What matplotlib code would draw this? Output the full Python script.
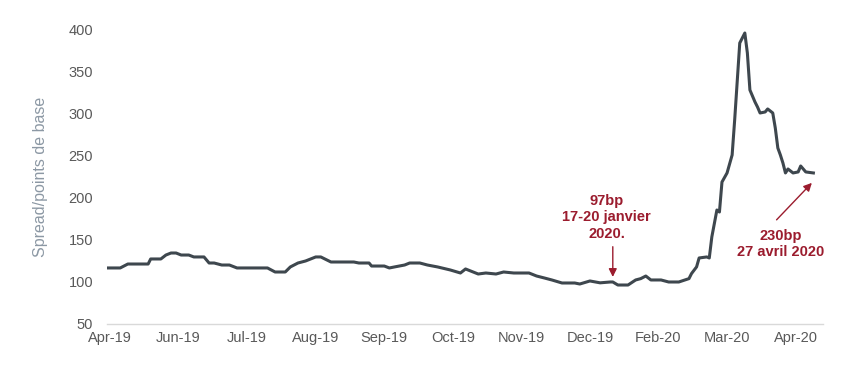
import matplotlib
matplotlib.use("Agg")
import matplotlib.pyplot as plt

plt.rcParams['font.family'] = ['Liberation Sans', 'DejaVu Sans']

# observation number (business days from start of Apr-19) and spread in bp
obs = [0, 5, 8, 16, 17, 21, 23, 25, 27, 29, 32, 34, 38, 40, 42, 45, 48,
       51, 63, 66, 70, 72, 75, 78, 80, 82, 84, 88, 97,
       99, 103, 104, 109, 111, 113, 117, 119, 123, 126, 130, 135, 139, 141, 143, 146,
       149, 153, 156, 160, 166, 169, 172, 175, 179, 184, 186, 190, 194, 198,
       199, 201, 205, 208, 210, 212, 214, 218, 221, 225, 229, 230, 232, 233,
       236, 237, 238, 240, 241, 242, 244, 246, 247, 249, 251, 252, 253, 255,
       256, 257, 259, 260, 262, 263, 264, 265, 266, 267, 268, 270, 272, 273,
       275, 278]
spread = [116.7, 116.7, 121.4, 121.4, 127.4, 127.4, 132.1, 134.5, 134.5, 132.1,
          132.1, 129.8, 129.8, 122.6, 122.6, 120.2, 120.2,
          116.7, 116.7, 111.9, 111.9, 117.9, 122.6, 125.0, 127.4, 129.8, 129.8,
          123.8, 123.8,
          122.6, 122.6, 119.0, 119.0, 116.7, 117.9, 120.2, 122.6, 122.6, 120.2,
          117.9, 114.3, 110.7, 115.5, 113.1, 109.5,
          110.7, 109.5, 111.9, 110.7, 110.7, 107.1, 104.8, 102.4, 98.8, 98.8,
          97.6, 101.2, 99.0, 100.0,
          100.0, 96.4, 96.4, 102.4, 104.0, 107.1, 102.4, 102.4, 100.0, 100.0,
          104.0, 110.0, 118.0, 128.6,
          129.8, 128.6, 153.6, 185.7, 183.3, 219.0, 229.8, 251.2, 292.9, 384.5,
          396.4, 372.6, 328.6, 314.3,
          308.3, 301.2, 302.4, 306.0, 301.2, 283.3, 259.5, 251.2, 241.7, 229.8,
          234.5, 229.8, 231.0, 238.1,
          231.0, 229.8]

tick_obs = [1, 28, 55, 82, 109, 136, 163, 190, 217, 244, 271]
tick_labels = ['Apr-19', 'Jun-19', 'Jul-19', 'Aug-19', 'Sep-19', 'Oct-19',
               'Nov-19', 'Dec-19', 'Feb-20', 'Mar-20', 'Apr-20']

red = '#9b1c2e'

fig = plt.figure(figsize=(8.52, 3.68), dpi=100)
ax = fig.add_axes([0.1256, 0.1196, 0.8404, 0.7989])

ax.plot(obs, spread, color='#3e474e', lw=2.2, solid_joinstyle='round')

ax.set_xlim(-0.2, 281.8)
ax.set_ylim(50, 400)
ax.set_yticks(range(50, 401, 50))
ax.set_xticks(tick_obs)
ax.set_xticklabels(tick_labels)
ax.tick_params(axis='both', length=0, colors='#595959', labelsize=10.5)
ax.tick_params(axis='y', pad=10)
ax.tick_params(axis='x', pad=5)

for s in ['top', 'right', 'left']:
    ax.spines[s].set_visible(False)
ax.spines['bottom'].set_color('#d9d9d9')
ax.spines['bottom'].set_linewidth(1)

ax.set_ylabel('Spread/points de base', color='#8c98a4', fontsize=11.5)
ax.yaxis.set_label_coords(-0.082, 0.5)

arrow = dict(arrowstyle='-|>', color=red, lw=1, shrinkA=0, shrinkB=0,
             mutation_scale=12)
ax.annotate('', xy=(199, 106), xytext=(199, 142), arrowprops=arrow)
ax.text(196.5, 177, '97bp\n17-20 janvier\n2020.', ha='center', va='center',
        color=red, fontsize=10.5, fontweight='bold', linespacing=1.2)
ax.annotate('', xy=(277.4, 218), xytext=(263.5, 174), arrowprops=arrow)
ax.text(265, 145, '230bp\n27 avril 2020', ha='center', va='center',
        color=red, fontsize=10.5, fontweight='bold', linespacing=1.2)

fig.savefig('out.png', dpi=100)
